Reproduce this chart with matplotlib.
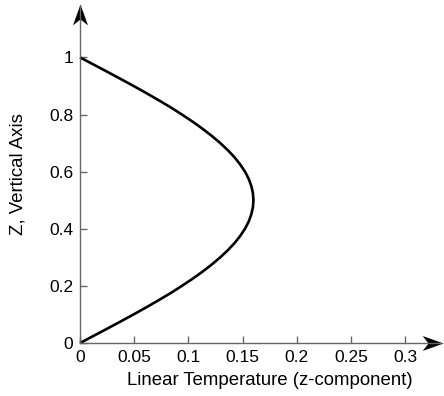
import matplotlib
matplotlib.use("Agg")
import matplotlib.pyplot as plt
from matplotlib.path import Path

plt.rcParams['font.family'] = ['Liberation Sans', 'DejaVu Sans']

# values
z_vals = [0.0, 0.025, 0.05, 0.075, 0.1, 0.125, 0.15, 0.175, 0.2, 0.225, 0.25,
          0.275, 0.3, 0.325, 0.35, 0.375, 0.4, 0.425, 0.45, 0.475, 0.5,
          0.525, 0.55, 0.575, 0.6, 0.625, 0.65, 0.675, 0.7, 0.725, 0.75,
          0.775, 0.8, 0.825, 0.85, 0.875, 0.9, 0.925, 0.95, 0.975, 1.0]
temp_vals = [0.0, 0.0125, 0.025, 0.0373, 0.0494, 0.0612, 0.0726, 0.0837, 0.094, 0.1039, 0.1131,
             0.1216, 0.1294, 0.1364, 0.1426, 0.1478, 0.1522, 0.1556, 0.158, 0.1595, 0.160,
             0.1595, 0.158, 0.1556, 0.1522, 0.1478, 0.1426, 0.1364, 0.1294, 0.1216, 0.1131,
             0.1039, 0.094, 0.0837, 0.0726, 0.0612, 0.0494, 0.0373, 0.025, 0.0125, 0.0]
x_ticks = [0, 0.05, 0.1, 0.15, 0.2, 0.25, 0.3]
y_ticks = [0, 0.2, 0.4, 0.6, 0.8, 1]

fig = plt.figure(figsize=(4.44, 3.96), dpi=100)
ax = fig.add_axes([80/444, 1 - 343/396, 361/444, 337/396])

ax.plot(temp_vals, z_vals, color='black', lw=1.9, clip_on=False,
        solid_capstyle='butt', solid_joinstyle='round')

ax.set_xlim(0, 0.333)
ax.set_ylim(0, 1.18)
ax.set_xticks(x_ticks)
ax.set_xticklabels(['0', '0.05', '0.1', '0.15', '0.2', '0.25', '0.3'])
ax.set_yticks(y_ticks)
ax.set_yticklabels(['0', '0.2', '0.4', '0.6', '0.8', '1'])
ax.tick_params(direction='in', length=5, width=1, color='#666666',
               labelsize=12.5, labelcolor='black', pad=5)

for s in ['top', 'right']:
    ax.spines[s].set_visible(False)
for s in ['left', 'bottom']:
    ax.spines[s].set_color('#666666')
    ax.spines[s].set_linewidth(1)

# stealth-style arrow heads at the axis ends
up_head = Path([(0, 0), (-0.36, -1), (0, -0.72), (0.36, -1), (0, 0)],
               [Path.MOVETO, Path.LINETO, Path.LINETO, Path.LINETO, Path.CLOSEPOLY])
right_head = Path([(0, 0), (-1, 0.36), (-0.72, 0), (-1, -0.36), (0, 0)],
                  [Path.MOVETO, Path.LINETO, Path.LINETO, Path.LINETO, Path.CLOSEPOLY])
ax.plot([0], [(343 - 4) / 337], marker=up_head, ms=30, color='black',
        mew=0, transform=ax.transAxes, clip_on=False)
ax.plot([(443 - 80) / 361], [0], marker=right_head, ms=30, color='black',
        mew=0, transform=ax.transAxes, clip_on=False)

ax.set_xlabel('Linear Temperature (z-component)', fontsize=13.4)
ax.xaxis.set_label_coords((270 - 80) / 361, -(372 - 343) / 337)
ax.set_ylabel('Z, Vertical Axis', fontsize=13.4)
ax.yaxis.set_label_coords(-(80 - 27) / 361, (343 - 174) / 337)

fig.savefig('out.png', dpi=100)
